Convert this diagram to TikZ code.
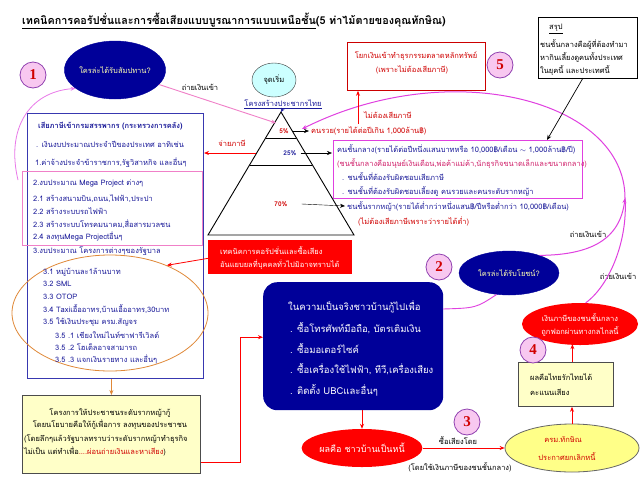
\documentclass[tikz,border=0pt]{standalone}
\usepackage{fontspec}
\setmainfont[Script=Thai]{Loma}
\newfontfamily\numfont{Liberation Serif}
\usetikzlibrary{shapes.geometric,arrows.meta,calc}
\definecolor{navyc}{HTML}{000099}
\definecolor{pinkc}{HTML}{F8C8F0}
\definecolor{purc}{HTML}{9040B0}
\definecolor{magc}{HTML}{E040E0}
\definecolor{pinkl}{HTML}{F080C8}
\definecolor{bluet}{HTML}{1A1A99}
\definecolor{redt}{HTML}{D00000}
\definecolor{redf}{HTML}{FF0000}
\definecolor{magt}{HTML}{D0206A}
\definecolor{ylwl}{HTML}{FFFFC8}
\definecolor{ylw}{HTML}{FFFF88}
\definecolor{cyanl}{HTML}{CCFFFF}
\definecolor{orangec}{HTML}{E08838}
\definecolor{boxblue}{HTML}{3838B0}
\definecolor{ellt}{HTML}{FFFFB0}
\newcommand{\fsA}{\fontsize{7.5}{9}\selectfont}
\newcommand{\fsB}{\fontsize{7}{8}\selectfont}
\newcommand{\fsD}{\fontsize{7.5}{8}\selectfont}
\newcommand{\fsC}{\fontsize{9.5}{11}\selectfont}
\tikzset{
  tl/.style={inner sep=0pt, anchor=west, font=\fsA},
  tc/.style={inner sep=0pt, font=\fsA},
  numc/.style={circle, draw=purc, fill=pinkc, line width=0.8pt, minimum size=26pt, inner sep=0pt,
     font=\numfont\bfseries\fontsize{15}{15}\selectfont, text=redt},
  navyell/.style={ellipse, fill=navyc, draw=navyc, text=ellt, inner sep=0pt, font=\fsA},
  arr/.style={-{Stealth[length=5pt,width=4pt]}},
}
\begin{document}
\begin{tikzpicture}[x=1pt,y=-1pt]
\useasboundingbox (0,0) rectangle (640,480);
\fill[white] (0,0) rectangle (640,480);

% title
\node[inner sep=0pt, anchor=west, font=\bfseries\fontsize{10.8}{12}\selectfont] (title) at (22,21)
  {\underline{เทคนิคการคอรัปชั่นและการซื้อเสียงแบบบูรณาการแบบเหนือชั้น}(5 ท่าไม้ตายของคุณทักษิณ)};

% boxes and shapes
\node[draw=boxblue, line width=1pt, minimum width=176pt, minimum height=265pt, anchor=north west, inner sep=0pt] (lbox) at (27,113) {};
\node[draw=pinkl, line width=0.8pt, minimum width=180pt, minimum height=74pt, anchor=north west, inner sep=0pt] (pbox) at (22,171) {};
\node[ellipse, draw=orangec, line width=0.8pt, minimum width=196pt, minimum height=116pt, inner sep=0pt] (oell) at (110,313) {};
\node[fill=ylwl, draw=black!70, line width=0.8pt, minimum width=178pt, minimum height=78pt, anchor=north west, inner sep=0pt] (ybl) at (22,395) {};
\node[fill=redf, minimum width=144pt, minimum height=34pt, anchor=north west, inner sep=0pt] (rbox) at (208,240) {};
\node[fill=navyc, rounded corners=14pt, minimum width=180pt, minimum height=128pt, anchor=north west, inner sep=0pt] (dbox) at (263,282) {};
\node[draw=magc, line width=0.8pt, minimum width=249pt, minimum height=58pt, anchor=north west, inner sep=0pt] (mbox) at (333,140) {};
\node[draw=redf!80!black, line width=0.8pt, minimum width=138pt, minimum height=48pt, anchor=north west, inner sep=0pt] (b5) at (347,42) {};
\node[draw=black, line width=0.8pt, minimum width=99pt, minimum height=61pt, anchor=north west, inner sep=0pt] (sb) at (538,17) {};
\node[fill=ylwl, draw=black!70, line width=0.8pt, minimum width=95pt, minimum height=44pt, anchor=north west, inner sep=0pt] (yb) at (518,362) {};

\node[navyell, minimum width=90pt, minimum height=58pt] (e1) at (115,70) {ใครล่ะได้รับสัมปทาน?};
\node[navyell, minimum width=100pt, minimum height=44pt] (e2) at (509,273) {ใครล่ะได้รับโยชน์?};
\node[ellipse, draw=black!80, fill=cyanl, minimum width=44pt, minimum height=34pt, inner sep=0pt, font=\fsA] (start) at (274,80) {จุดเริ่ม};
\node[ellipse, fill=redf, minimum width=108pt, minimum height=38pt, inner sep=0pt, text=white, font=\fontsize{9}{11}\selectfont] (re1) at (362,448) {ผลคือ ชาวบ้านเป็นหนี้};
\node[ellipse, fill=ylw, draw=black!60, line width=0.8pt, minimum width=134pt, minimum height=48pt, inner sep=0pt] (ye) at (572,448) {};
\node[ellipse, fill=redf, minimum width=116pt, minimum height=42pt, inner sep=0pt] (re2) at (580,324) {};

% number circles
\node[numc] (c1) at (33,75) {1};
\node[numc] (c2) at (439,267) {2};
\node[numc] (c3) at (467,422) {3};
\node[numc] (c4) at (533,350) {4};
\node[numc] (c5) at (500,65) {5};

% triangle
\coordinate (apex) at (281,112);
\coordinate (bl) at (208,235);
\coordinate (br) at (354,235);
\draw[line width=0.9pt] (apex) -- (bl) -- (br) -- cycle;
\draw[line width=0.9pt] ($(apex)!0.211!(bl)$) -- ($(apex)!0.211!(br)$);
\draw[line width=0.9pt] ($(apex)!0.431!(bl)$) -- ($(apex)!0.431!(br)$);

% triangle labels
\node[tc, font=\bfseries\fontsize{6.5}{8}\selectfont, text=redt] (p5) at (284,131) {5\%};
\node[tc, font=\bfseries\fontsize{6.5}{8}\selectfont, text=bluet] (p25) at (290,153) {25\%};
\node[tc, font=\bfseries\fontsize{6.5}{8}\selectfont, text=redt] (p70) at (281,204) {70\%};
\node[tl, text=redt] (rich) at (311,131) {คนรวย(รายได้ต่อปีเกิน 1,000ล้าน฿)};
\node[tl, text=bluet] (m1) at (337,149) {คนชั้นกลาง(รายได้ต่อปีหนึ่งแสนบาทหรือ 10,000฿/เดือน $\sim$ 1,000ล้าน฿/ปี)};
\node[tl, text=magt] (m2) at (337,163) {(ชนชั้นกลางคือมนุษย์เงินเดือน,พ่อค้าแม่ค้า,นักธุรกิจขนาดเล็กและขนาดกลาง)};
\node[tl, text=bluet] (m3) at (342,177) {. ชนชั้นที่ต้องรับผิดชอบเสียภาษี};
\node[tl, text=bluet] (m4) at (342,191) {. ชนชั้นที่ต้องรับผิดชอบเลี้ยงดู คนรวยและคนระดับรากหญ้า};
\node[tl, text=bluet] (g1) at (347,206) {ชนชั้นรากหญ้า(รายได้ต่ำกว่าหนึ่งแสน฿/ปีหรือต่ำกว่า 10,000฿/เดือน)};
\node[tl, text=redt] (g2) at (358,221) {(ไม่ต้องเสียภาษีเพราะว่ารายได้ต่ำ)};
\coordinate (a25) at (332,153);
\coordinate (a70) at (345,206);
\draw[arr] ([xshift=4pt]p5.east) -- ([xshift=-2pt]rich.west);
\draw[arr] ([xshift=4pt]p25.east) -- (a25);
\draw[arr] ([xshift=14pt]p70.east) -- (a70);

% texts
\node[tc, text=bluet, font=\fsA] (struct) at (283,104) {\underline{โครงสร้างประชากรไทย}};
\node[tc, text=redt] (tax) at (232,143) {จ่ายภาษี};
\node[tl, text=redt] (nt) at (364,115) {ไม่ต้องเสียภาษี};
\node[tc, text=redt] (b5a) at (416,56) {โยกเงินเข้าทำธุรกรรมตลาดหลักทรัพย์};
\node[tc, text=redt] (b5b) at (412,70) {(เพราะไม่ต้องเสียภาษี)};
\node[tl, font=\fsD] (sb0) at (549,29) {\underline{สรุป}};
\node[tl, font=\fsD] (sb1) at (540,45) {ชนชั้นกลางคือผู้ที่ต้องทำมา};
\node[tl, font=\fsD] (sb2) at (540,58) {หากินเลี้ยงดูคนทั้งประเทศ};
\node[tl, font=\fsD] (sb3) at (540,71) {ในยุคนี้ และประเทศนี้};
\node[tc] (f1) at (200,87) {ถ่ายเงินเข้า};
\node[tc] (f2) at (588,234) {ถ่ายเงินเข้า};
\node[tc] (f3) at (618,276) {ถ่ายเงินเข้า};
\node[tc] (sv1) at (458,441) {ซื้อเสียงโดย};
\node[tc] (sv2) at (460,467) {(โดยใช้เงินภาษีของชนชั้นกลาง)};
\node[tc, text=redt] (ye1) at (563,440) {ครม.ทักษิณ};
\node[tc, text=redt] (ye2) at (567,457) {ประกาศยกเลิกหนี้};
\node[tl] (yb1) at (530,377) {ผลคือไทยรักไทยได้};
\node[tl] (yb2) at (530,392) {คะแนนเสียง};
\node[tc, text=white] (rt1) at (580,318) {เงินภาษีของชนชั้นกลาง};
\node[tc, text=white] (rt2) at (580,331) {ถูกฟอกผ่านทางกลไกลนี้};
\node[tl, text=white] (rb1) at (220,251) {เทคนิคการคอรัปชั่นและซื้อเสียง};
\node[tl, text=white] (rb2) at (220,265) {อันแยบยลที่บุคคลทั่วไปมิอาจทราบได้};

% dark box text
\node[tl, text=white, font=\fsC] (d1) at (288,307) {ในความเป็นจริงชาวบ้านกู้ไปเพื่อ};
\node[tl, text=white, font=\fsC] (d2) at (290,328) {. ซื้อโทรศัพท์มือถือ, บัตรเติมเงิน};
\node[tl, text=white, font=\fsC] (d3) at (290,348) {. ซื้อมอเตอร์ไซค์};
\node[tl, text=white, font=\fsC] (d4) at (290,369) {. ซื้อเครื่องใช้ไฟฟ้า, ทีวี,เครื่องเสียง};
\node[tl, text=white, font=\fsC] (d5) at (290,390) {. ติดตั้ง UBCและอื่นๆ};

% left box text
\node[tl, text=bluet, font=\bfseries\fsA] (lt1) at (38,126) {เสียภาษีเข้ากรมสรรพากร (กระทรวงการคลัง)};
\node[tl, text=bluet] (lt2) at (36,144) {. เงินงบประมาณประจำปีของประเทศ อาทิเช่น};
\node[tl, text=bluet] (lt3) at (35,163) {1.ค่าจ้างประจำข้าราชการ,รัฐวิสาหกิจ และอื่นๆ};
\node[tl, text=bluet] (lt4) at (33,183) {2.งบประมาณ Mega Project ต่างๆ};
\node[tl, text=bluet] (lt5) at (33,199) {2.1 สร้างสนามบิน,ถนน,ไฟฟ้า,ประปา};
\node[tl, text=bluet] (lt6) at (33,211) {2.2 สร้างระบบรถไฟฟ้า};
\node[tl, text=bluet] (lt7) at (33,224) {2.3 สร้างระบบโทรคมนาคม,สื่อสารมวลชน};
\node[tl, text=bluet] (lt8) at (33,237) {2.4 ลงทุนMega Projectอื่นๆ};
\node[tl, text=bluet] (lt9) at (33,251) {3.งบประมาณ โครงการต่างๆของรัฐบาล};
\node[tl, text=bluet] (lt10) at (43,272) {3.1 หมู่บ้านละ1ล้านบาท};
\node[tl, text=bluet] (lt11) at (43,284) {3.2 SML};
\node[tl, text=bluet] (lt12) at (43,297) {3.3 OTOP};
\node[tl, text=bluet] (lt13) at (43,309) {3.4 Taxiเอื้ออาทร,บ้านเอื้ออาทร,30บาท};
\node[tl, text=bluet] (lt14) at (43,322) {3.5 ใช้เงินประชุม ครม.สัญจร};
\node[tl, text=bluet] (lt15) at (55,335) {3.5 .1 เชียงใหม่ไนท์ซาฟารีเวิลด์};
\node[tl, text=bluet] (lt16) at (55,347) {3.5 .2 โฮเต็ลอาจสามารถ};
\node[tl, text=bluet] (lt17) at (55,359) {3.5 .3 แจกเงินรายทาง และอื่นๆ};

% yellow bottom-left text
\node[tc, font=\fsD] (yt1) at (110,413) {โครงการให้ประชาชนระดับรากหญ้ากู้};
\node[tc, font=\fsD] (yt2) at (110,425) {โดยนโยบายคือให้กู้เพื่อการ ลงทุนของประชาชน};
\node[tl, font=\fsD] (yt3) at (24,439) {(โดยลึกๆแล้วรัฐบาลทราบว่าระดับรากหญ้าทำธุรกิจ};
\node[tl, font=\fsD] (yt4) at (24,451) {ไม่เป็น แต่ทำเพื่อ\textcolor{redt}{....ผ่อนถ่ายเงินและหาเสียง})};

% connectors
\coordinate (apexin) at (276,123);
\draw[pinkl, line width=0.9pt, arr] (e1) -- (apexin);
\draw[bluet, -{Stealth[length=4pt,width=3.5pt]}] (struct.south) -- (apex);
\coordinate (m1s) at (18,180);
\draw[magc!70, line width=0.8pt, arr] (m1s) .. controls (6,130) and (28,92) .. (e1.205);
\coordinate (j) at (625,198);
\coordinate (tip5) at (302,129);
\draw[magc, line width=1pt, arr] (j) .. controls (625,100) and (450,55) .. (tip5);
\draw[magc, line width=1pt, arr] (e2.30) .. controls (590,255) and (620,240) .. (j);
\draw[magc, line width=1pt] (re2.75) .. controls (610,285) and (628,240) .. (j);
\coordinate (dbr) at (443,309);
\draw[magc, line width=0.9pt] (e2.240) .. controls (476,308) .. (dbr);
\coordinate (ntb) at (358,124);
\draw[redf, line width=0.8pt, arr] (ntb) -- (ntb |- b5.south);
\coordinate (tx1) at (256,153);
\draw[redf, line width=0.8pt, arr] (tx1) -- (tx1 -| lbox.east);
\coordinate (sbl) at (583,78);
\coordinate (mbt) at (547,140);
\draw[black, line width=0.7pt, arr] (sbl) -- (mbt);
\coordinate (rbl) at (210,258);
\draw[redf, line width=0.8pt, arr] (rbl) -- (oell.40);
\draw[orangec, line width=0.8pt, arr] (ybl.north |- lbox.south) -- (ybl.north);
\draw[redf, line width=0.8pt, arr] ([yshift=11pt]ybl.south east) -- ++(40,0) |- ([yshift=9pt]dbox.west);
\draw[redf, line width=0.8pt, arr] (re1.north |- dbox.south) -- (re1.north);
\draw[redf, line width=0.8pt, arr] (re1.east) -- (ye.west);
\draw[redf, line width=0.8pt, arr] (ye.north) -- (ye.north |- yb.south);
\draw[redf, line width=0.8pt, arr] ([xshift=6.5pt]yb.north) -- ([xshift=6.5pt,yshift=1pt]yb.north |- re2.south);
\end{tikzpicture}
\end{document}
